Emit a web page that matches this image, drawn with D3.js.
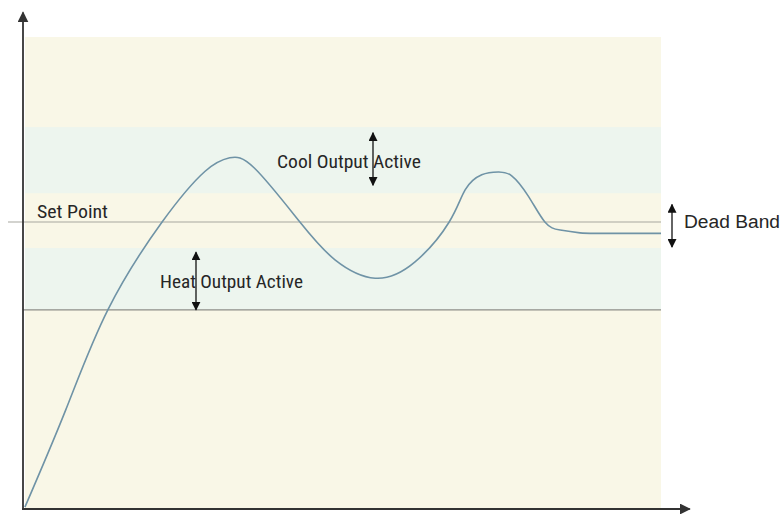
<!DOCTYPE html>
<html><head><meta charset="utf-8">
<script src="https://cdn.jsdelivr.net/npm/d3@7"></script>
<style>
html,body{margin:0;padding:0;background:#fff;}
svg{display:block;}
</style></head>
<body>
<script>
// ---- data (abstract units: x 0..100 time, y 0..100 temperature) ----
const curveX = [0.3, 6.7, 13.3, 21.8, 28.5, 32.4, 36.3, 43.4, 48.9, 55.2, 61.4, 66.8, 69.3, 71.9, 74.5, 76.6, 79.2, 81.8, 84.2, 87.3, 90.4, 100];
const curveY = [0.4, 21.0, 42.2, 60.8, 71.5, 74.4, 72.2, 60.8, 52.8, 48.9, 52.3, 60.8, 67.6, 70.8, 71.4, 70.6, 66.3, 60.8, 59.1, 58.5, 58.4, 58.4];
const setPoint = 60.8;
const heatLine = 42.2;
const coolBand = [66.9, 80.9];
const heatBand = [42.2, 55.3];
const labels = ["Set Point", "Cool Output Active", "Heat Output Active", "Dead Band"];

const W = 783, H = 514;
const x = d3.scaleLinear().domain([0, 100]).range([23, 661]);
const y = d3.scaleLinear().domain([0, 100]).range([509, 37]);

const svg = d3.select("body").append("svg").attr("width", W).attr("height", H);
const defs = svg.append("defs");
function marker(id, size, color) {
  defs.append("marker").attr("id", id).attr("viewBox", "0 0 10 10")
    .attr("refX", 9).attr("refY", 5).attr("markerUnits", "userSpaceOnUse")
    .attr("markerWidth", size).attr("markerHeight", size).attr("orient", "auto-start-reverse")
    .append("path").attr("d", "M0,0 L10,5 L0,10 Z").attr("fill", color);
}
marker("axArrow", 11, "#333");
marker("dArrow", 9, "#111");

// background
svg.append("rect").attr("x", x(0) + 2).attr("y", y(100)).attr("width", x(100) - x(0) - 2).attr("height", y(0) - y(100)).attr("fill", "#f9f7e7");
svg.append("rect").attr("x", x(0) + 2).attr("y", y(coolBand[1])).attr("width", x(100) - x(0) - 2).attr("height", y(coolBand[0]) - y(coolBand[1])).attr("fill", "#edf5ee");
svg.append("rect").attr("x", x(0) + 2).attr("y", y(heatBand[1])).attr("width", x(100) - x(0) - 2).attr("height", y(heatBand[0]) - y(heatBand[1])).attr("fill", "#edf5ee");

// horizontal reference lines
svg.append("line").attr("x1", 8).attr("x2", x(100)).attr("y1", y(setPoint)).attr("y2", y(setPoint)).attr("stroke", "#a8a8a0").attr("stroke-width", 1.2);
svg.append("line").attr("x1", x(0)).attr("x2", x(100)).attr("y1", y(heatLine)).attr("y2", y(heatLine)).attr("stroke", "#8e8e88").attr("stroke-width", 1.2);

// curve
const pts = curveX.map((v, i) => [v, curveY[i]]);
svg.append("path").datum(pts)
  .attr("d", d3.line().x(d => x(d[0])).y(d => y(d[1])).curve(d3.curveNatural))
  .attr("fill", "none").attr("stroke", "#6f93a6").attr("stroke-width", 1.6);

// axes
svg.append("line").attr("x1", x(0)).attr("x2", x(0)).attr("y1", y(0) + 1).attr("y2", y(105.2))
  .attr("stroke", "#333").attr("stroke-width", 1.8).attr("marker-end", "url(#axArrow)");
svg.append("line").attr("x1", x(0) - 1).attr("x2", x(104.5)).attr("y1", y(0)).attr("y2", y(0))
  .attr("stroke", "#333").attr("stroke-width", 2.2).attr("marker-end", "url(#axArrow)");

// double arrows
function dbl(px, v0, v1) {
  svg.append("line").attr("x1", px).attr("x2", px).attr("y1", y(v0)).attr("y2", y(v1))
    .attr("stroke", "#111").attr("stroke-width", 1.3)
    .attr("marker-start", "url(#dArrow)").attr("marker-end", "url(#dArrow)");
}
dbl(373, 68.6, 79.7);
dbl(196, 42.2, 54.4);
dbl(672, 55.5, 64.5);

// labels
const condensed = "'Liberation Sans Narrow','Roboto Condensed','DejaVu Sans Condensed','Liberation Sans',Arial,sans-serif";
function label(txt, px, py, len, fam, size) {
  const t = svg.append("text").attr("x", px).attr("y", py).text(txt)
    .attr("font-family", fam).attr("font-size", size).attr("fill", "#262626");
  if (len) t.attr("textLength", len).attr("lengthAdjust", "spacingAndGlyphs");
}
label(labels[0], 37, 218, 71, condensed, 18);
label(labels[1], 277, 168, 144, condensed, 18);
label(labels[2], 160, 288, 143, condensed, 18);
label(labels[3], 684, 228, 96, "'Liberation Sans',Arial,sans-serif", 18);
</script>
</body></html>
